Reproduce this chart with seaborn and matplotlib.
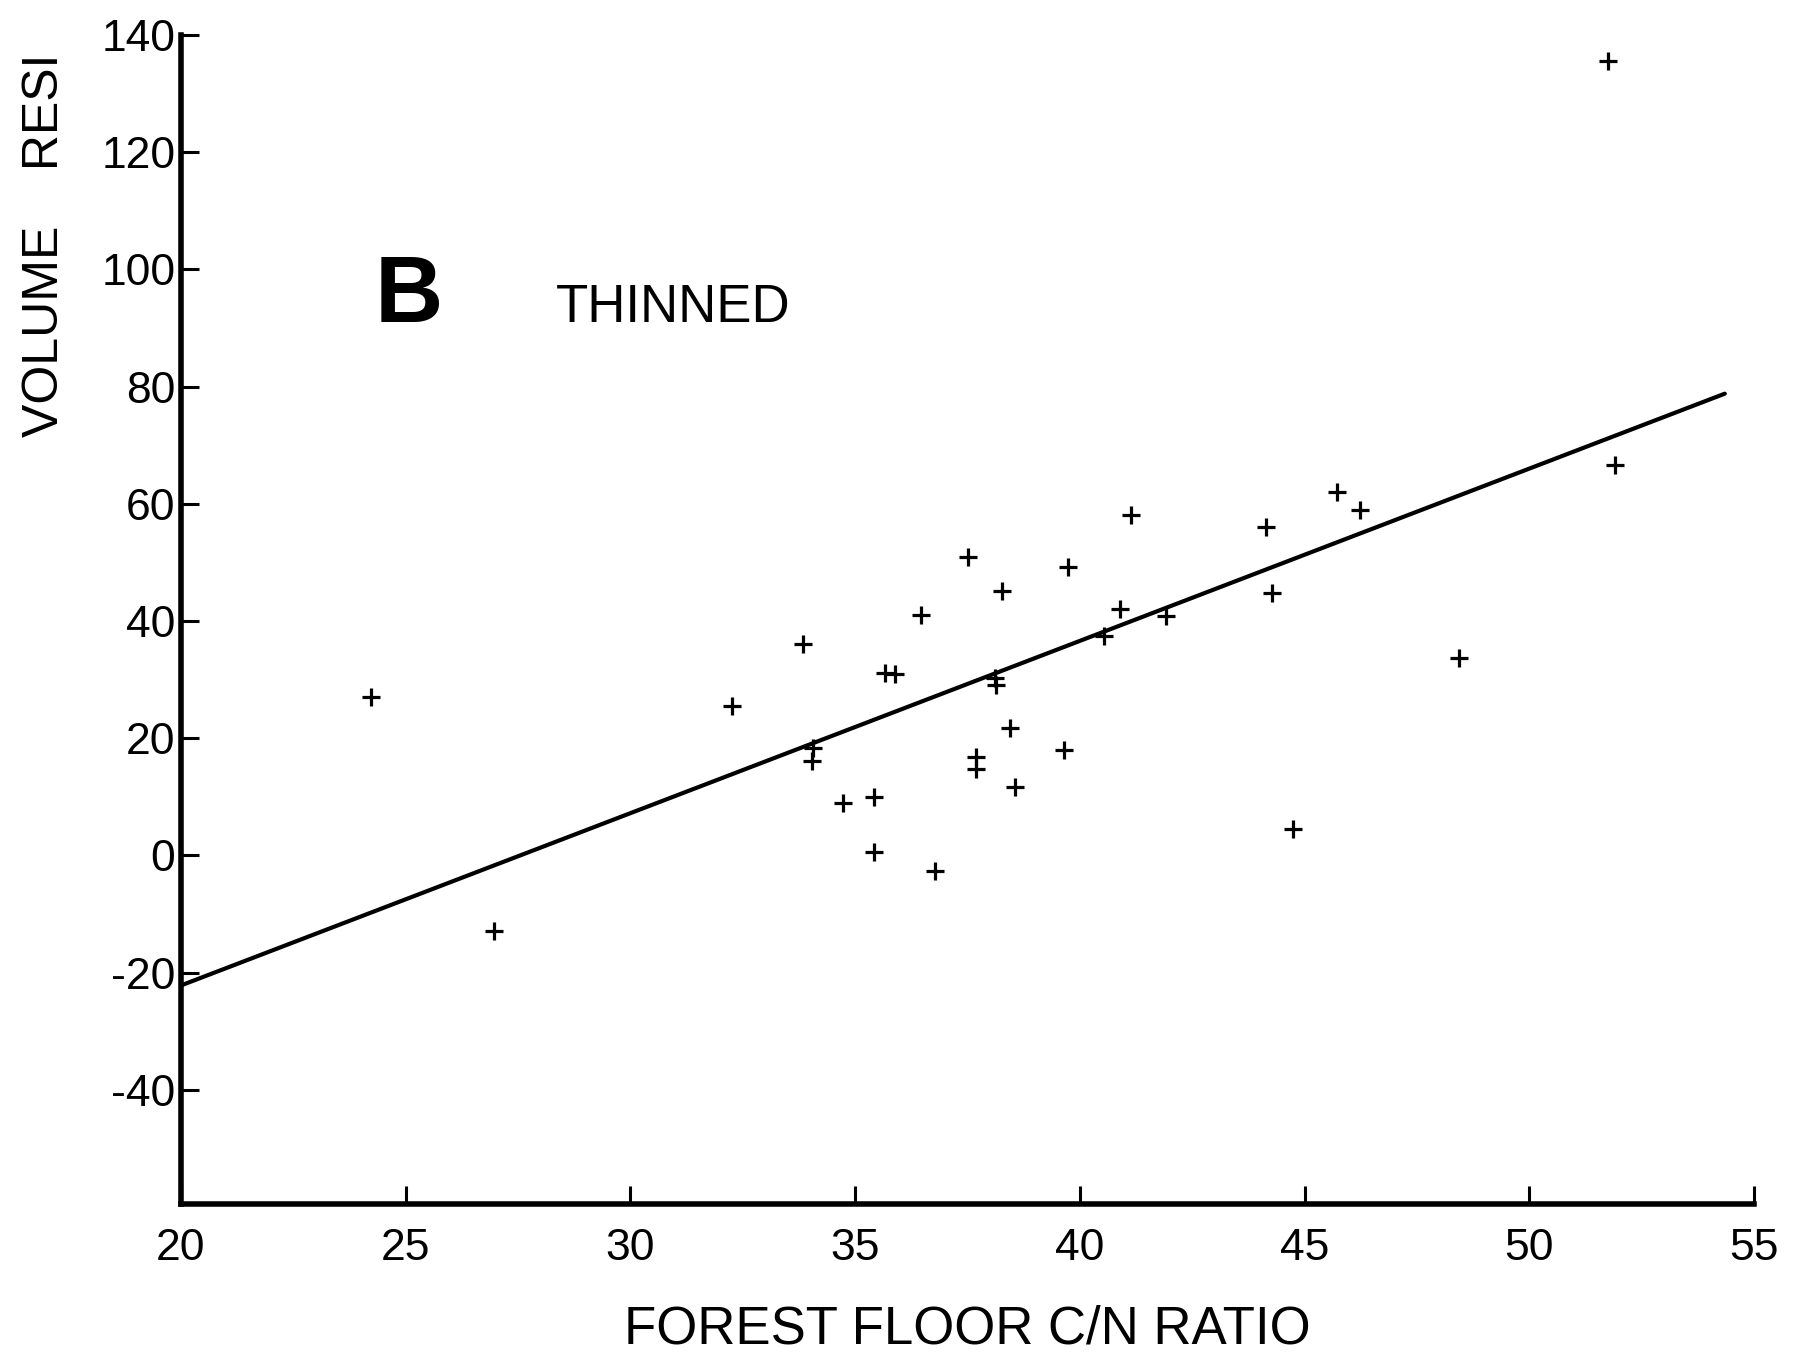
import numpy as np
import pandas as pd
import matplotlib
matplotlib.use("Agg")
import matplotlib.pyplot as plt
import seaborn as sns

# ---- data ----
cn_ratio = [24.23, 26.96, 32.27, 33.84, 34.07, 34.05, 34.74, 35.41, 35.41, 35.67,
            35.88, 36.47, 36.78, 37.50, 37.68, 37.68, 38.12, 38.14, 38.27, 38.45,
            38.56, 39.64, 39.74, 40.54, 40.90, 41.13, 41.91, 44.15, 44.28, 44.74,
            45.72, 46.24, 48.43, 51.75, 51.91]
volume_resid = [27.1, -12.9, 25.5, 36.1, 18.4, 16.1, 9.0, 10.0, 0.6, 31.2,
                31.0, 41.0, -2.7, 51.0, 16.7, 14.7, 30.2, 29.0, 45.1, 21.8,
                11.6, 18.0, 49.2, 37.5, 42.0, 58.0, 40.8, 56.1, 44.7, 4.5,
                62.0, 59.0, 33.7, 135.5, 66.7]

fit_x_range = [20.0, 54.35]
fit_intercept = -81.0
fit_slope = 2.94

x_ticks = [20, 25, 30, 35, 40, 45, 50, 55]
y_ticks = [-40, -20, 0, 20, 40, 60, 80, 100, 120, 140]

panel_letter = "B"
panel_title = "THINNED"
x_label = "FOREST FLOOR C/N RATIO"
y_label = "VOLUME    RESI"

# ---- styling ----
sns.set_style("ticks")
plt.rcParams["font.family"] = ["Liberation Sans", "DejaVu Sans"]
plt.rcParams["axes.unicode_minus"] = False

W, H = 1806, 1369
fig = plt.figure(figsize=(W / 100, H / 100), dpi=100)
fig.patch.set_facecolor("white")
ax = fig.add_axes([181 / W, 1 - 1204 / H, (1754 - 181) / W, (1204 - 35) / H])
ax.set_facecolor("white")

df = pd.DataFrame({"cn": cn_ratio, "vol": volume_resid})
sns.scatterplot(data=df, x="cn", y="vol", marker="+", s=160, color="black",
                linewidth=2.3, ax=ax, legend=False)

fx = np.array(fit_x_range)
fit_df = pd.DataFrame({"x": fx, "y": fit_intercept + fit_slope * fx})
sns.lineplot(data=fit_df, x="x", y="y", color="black", linewidth=3.0, ax=ax)

ax.set_xlim(20, 55)
ax.set_ylim(-59.5, 140)
ax.set_xticks(x_ticks)
ax.set_yticks(y_ticks)
ax.set_xticklabels([str(v) for v in x_ticks])
ax.set_yticklabels([str(v) for v in y_ticks])

for s in ["top", "right"]:
    ax.spines[s].set_visible(False)
for s in ["left", "bottom"]:
    ax.spines[s].set_linewidth(4.0)
    ax.spines[s].set_color("black")

ax.tick_params(axis="both", direction="in", length=13, width=2.2, colors="black",
               labelsize=32, labelcolor="black")
ax.tick_params(axis="x", pad=17)
ax.tick_params(axis="y", pad=4)

ax.set_xlabel(x_label, fontsize=38, labelpad=26, color="black")
ax.set_ylabel("")

fig.text(45 / W, 1 - 437 / H, y_label, rotation=90, ha="center", va="bottom",
         fontsize=36, color="black")

ax.text(24.3, 91.0, panel_letter, fontsize=68, fontweight="bold", ha="left",
        va="baseline", color="black")
ax.text(28.35, 91.0, panel_title, fontsize=38, ha="left", va="baseline",
        color="black")

fig.savefig("out.png", dpi=100, facecolor="white")
